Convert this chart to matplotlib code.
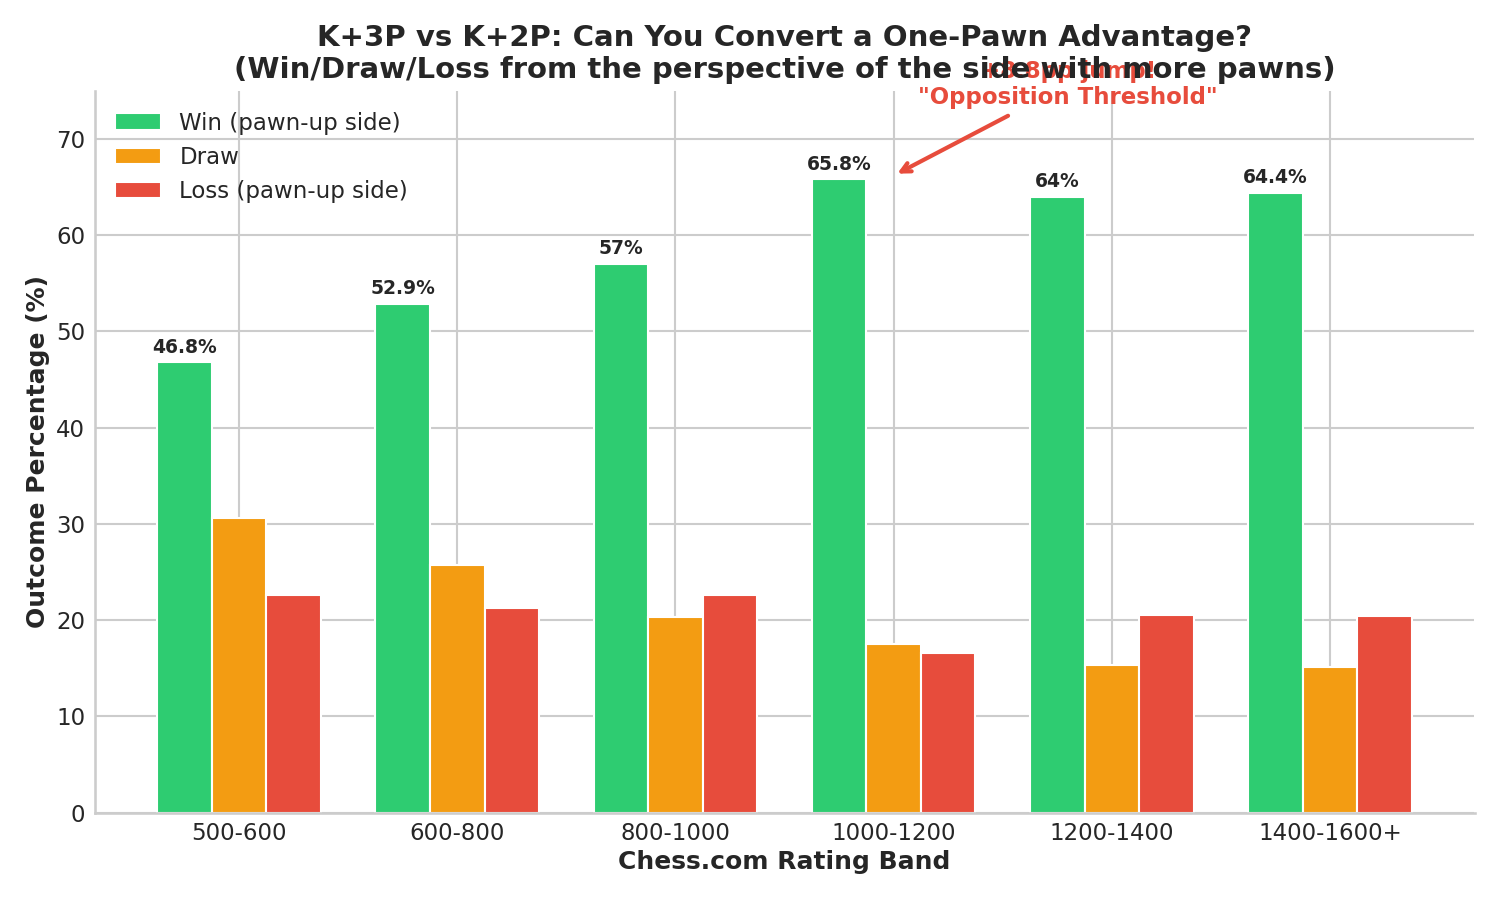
import numpy as np
import matplotlib
matplotlib.use("Agg")
from matplotlib import pyplot as plt
import seaborn as sns

# rating bands and outcome percentages (pawn-up side)
bands = ["500-600", "600-800", "800-1000", "1000-1200", "1200-1400", "1400-1600+"]
win = [46.8, 52.9, 57.0, 65.8, 64.0, 64.4]
draw = [30.6, 25.7, 20.3, 17.5, 15.3, 15.1]
loss = [22.6, 21.3, 22.6, 16.6, 20.5, 20.4]

sns.set_theme(style="whitegrid")
plt.rcParams['font.family'] = ['DejaVu Sans']

fig, ax = plt.subplots(figsize=(10, 6), dpi=150)
x = np.arange(len(bands))
w = 0.25

b_win = ax.bar(x - w, win, w, color="#2ecc71", edgecolor="white", linewidth=1, label="Win (pawn-up side)")
ax.bar(x, draw, w, color="#f39c12", edgecolor="white", linewidth=1, label="Draw")
ax.bar(x + w, loss, w, color="#e74c3c", edgecolor="white", linewidth=1, label="Loss (pawn-up side)")

# value labels on the win bars
for rect, v in zip(b_win, win):
    ax.text(rect.get_x() + rect.get_width() / 2, v + 0.6, f"{v:g}%",
            ha="center", va="bottom", fontsize=9, fontweight="bold", color="#262626")

ax.annotate("+8.8pp jump!\n\"Opposition Threshold\"",
            xy=(3, win[3] + 0.4), xytext=(3.8, 73.1),
            ha="center", va="bottom", fontsize=11, fontweight="bold", color="#e74c3c",
            arrowprops=dict(arrowstyle="->", color="#e74c3c", lw=2))

ax.set_xticks(x)
ax.set_xticklabels(bands, fontsize=11)
ax.tick_params(axis="both", labelsize=11, length=0, pad=4.5)
ax.set_ylim(0, 75)
ax.set_xlabel("Chess.com Rating Band", fontsize=12, fontweight="bold", labelpad=2.5)
ax.set_ylabel("Outcome Percentage (%)", fontsize=12, fontweight="bold", labelpad=3)
ax.set_title("K+3P vs K+2P: Can You Convert a One-Pawn Advantage?\n"
             "(Win/Draw/Loss from the perspective of the side with more pawns)",
             fontsize=14, fontweight="bold", color="#262626")
ax.legend(loc="upper left", fontsize=11, frameon=False)
sns.despine()

fig.subplots_adjust(left=0.063, right=0.983, bottom=0.097, top=0.899)
plt.savefig("out.png")
